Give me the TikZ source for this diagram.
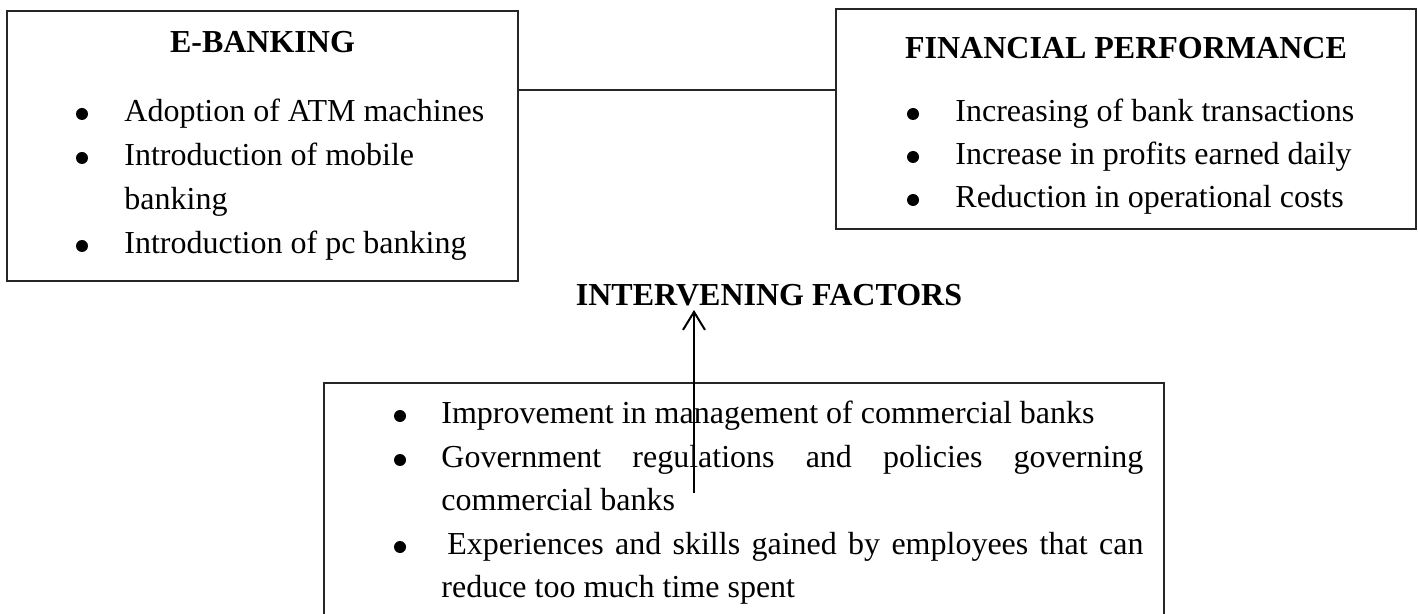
\documentclass[tikz,border=0pt]{standalone}
\usepackage{fontspec}
\setmainfont{Liberation Serif}
\usetikzlibrary{arrows.meta}
\newcommand{\bodyfont}{\fontsize{16pt}{19pt}\selectfont}
\tikzset{
  box/.style={draw=black!85, line width=0.65pt, inner sep=0pt, outer sep=0pt, anchor=north west},
  txt/.style={anchor=base west, inner sep=0pt, font=\bodyfont},
  ttl/.style={anchor=base, inner sep=0pt, font=\bodyfont\bfseries},
  bul/.style={circle, fill=black, draw=none, inner sep=0pt, minimum size=6pt},
  link/.style={draw=black!85, line width=0.75pt},
  uparrow/.style={draw=black, line width=1pt, -{Straight Barb[length=9pt,width=11pt,line width=1pt]}}
}
\begin{document}
\begin{tikzpicture}[x=0.5pt,y=-0.5pt]
\useasboundingbox (0,0) rectangle (1418,614);
\clip (0,0) rectangle (1418,614);
% boxes
\node[box, minimum width=255.5pt, minimum height=135pt] (ebox) at (7,11) {};
\node[box, minimum width=290pt, minimum height=110pt] (fbox) at (836,9) {};
\node[box, minimum width=420pt, minimum height=140pt] (ibox) at (324,383) {};
% connector between boxes
\coordinate (lk) at (0,90);
\draw[link] (ebox.east |- lk) -- (fbox.west |- lk);
% E-BANKING
\node[ttl] (et) at (262.5,53) {E-BANKING};
\node[bul] (eb1) at (82,114) {};
\node[txt] (e1) at (124,122) {Adoption of ATM machines};
\node[bul] (eb2) at (82,158) {};
\node[txt] (e2) at (124,166) {Introduction of mobile};
\node[txt] (e3) at (124,210) {banking};
\node[bul] (eb3) at (82,246) {};
\node[txt] (e4) at (124,254) {Introduction of pc banking};
% FINANCIAL PERFORMANCE
\node[ttl] (ft) at (1126,59) {FINANCIAL PERFORMANCE};
\node[bul] (fb1) at (913,114) {};
\node[txt] (f1) at (955,122) {Increasing of bank transactions};
\node[bul] (fb2) at (913,157) {};
\node[txt] (f2) at (955,165) {Increase in profits earned daily};
\node[bul] (fb3) at (913,200) {};
\node[txt] (f3) at (955,208) {Reduction in operational costs};
% INTERVENING FACTORS
\node[ttl] (it) at (769,306) {INTERVENING FACTORS};
\node[bul] (ib1) at (400,416) {};
\node[txt] (i1) at (441,423) {Improvement in management of commercial banks};
\node[bul] (ib2) at (400,460) {};
\node[txt] (i2) at (441,467) {\makebox[351pt][s]{Government regulations and policies governing}};
\node[txt] (i3) at (441,510) {commercial banks};
\node[bul] (ib3) at (400,547) {};
\node[txt] (i4) at (447,554) {\makebox[348pt][s]{Experiences and skills gained by employees that can}};
\node[txt] (i5) at (441,597) {reduce too much time spent};
% arrow
\coordinate (as) at (694,493);
\coordinate (ae) at (694,310);
\draw[uparrow] (as) -- (ae);
\end{tikzpicture}
\end{document}
